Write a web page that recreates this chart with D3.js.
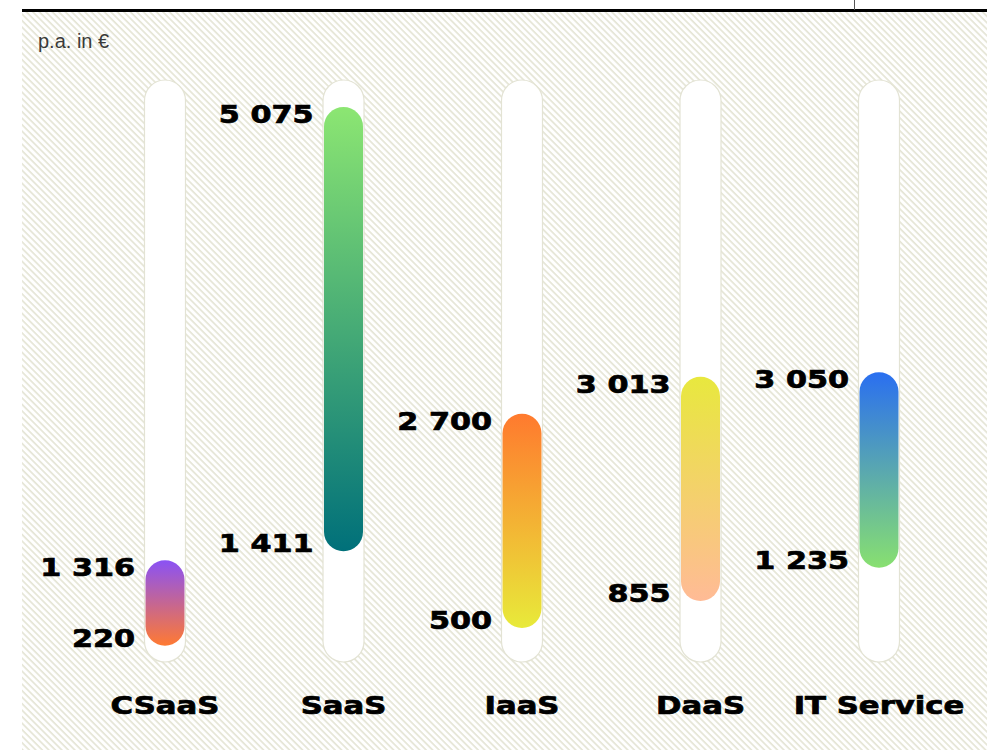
<!DOCTYPE html>
<html>
<head>
<meta charset="utf-8">
<script src="https://cdn.jsdelivr.net/npm/d3@7"></script>
<style>
	html, body { margin: 0; padding: 0; background: #fff; }
	svg { display: block; }
</style>
</head>
<body>
<div id="chart"></div>
<script>
// values (per year, EUR)
const categories = ["CSaaS", "SaaS", "IaaS", "DaaS", "IT Service"]
const lowValues = [220, 1411, 500, 855, 1235]
const highValues = [1316, 5075, 2700, 3013, 3050]
const topColors = ["#8a52f5", "#8ce672", "#ff7a2e", "#e8e83e", "#2a6ff0"]
const bottomColors = ["#ff7a32", "#00707a", "#e8ea3a", "#ffbb96", "#88e070"]
const unitLabel = "p.a. in €"

const width = 987
const height = 750

const fmt = v => d3.format(",")(v).replace(/,/g, " ")

const svg = d3.select("#chart")
	.append("svg")
	.attr("width", width)
	.attr("height", height)

const defs = svg.append("defs")

// diagonal hatch background
const hatch = defs.append("pattern")
	.attr("id", "hatch")
	.attr("patternUnits", "userSpaceOnUse")
	.attr("width", 4.6)
	.attr("height", 4.6)
	.attr("patternTransform", "rotate(-45)")
hatch.append("rect")
	.attr("width", 4.6)
	.attr("height", 4.6)
	.attr("fill", "#fff")
hatch.append("line")
	.attr("x1", 1).attr("x2", 1)
	.attr("y1", 0).attr("y2", 4.6)
	.attr("stroke", "#e2e2d1")
	.attr("stroke-width", 1.5)

categories.forEach((c, i) => {
	const g = defs.append("linearGradient")
		.attr("id", "grad" + i)
		.attr("x1", 0).attr("x2", 0)
		.attr("y1", 0).attr("y2", 1)
	g.append("stop").attr("offset", "0%").attr("stop-color", topColors[i])
	g.append("stop").attr("offset", "100%").attr("stop-color", bottomColors[i])
})

svg.append("rect")
	.attr("x", 22)
	.attr("y", 12)
	.attr("width", width - 22)
	.attr("height", height - 12)
	.attr("fill", "url(#hatch)")

// top rule
svg.append("rect")
	.attr("x", 22)
	.attr("y", 9)
	.attr("width", width - 22)
	.attr("height", 3)
	.attr("fill", "#000")
svg.append("line")
	.attr("x1", 854.5).attr("x2", 854.5)
	.attr("y1", 0).attr("y2", 10)
	.attr("stroke", "#555")
	.attr("stroke-width", 1)

svg.append("text")
	.attr("x", 38)
	.attr("y", 48)
	.text(unitLabel)
	.style("font-family", "'Liberation Sans', Arial, sans-serif")
	.style("font-size", "20px")
	.style("fill", "#3a3a3a")

const x = d3.scalePoint()
	.domain(categories)
	.range([165, 879])

const y = d3.scalePow()
	.exponent(1.3)
	.domain([0, d3.max(highValues)])
	.range([655, 107])

const trackW = 41
const barW = 39

const cols = svg.append("g")
	.selectAll("g")
	.data(categories)
	.join("g")
	.attr("transform", d => `translate(${x(d)},0)`)

// white tracks
cols.append("rect")
	.attr("x", -trackW / 2)
	.attr("y", 80)
	.attr("width", trackW)
	.attr("height", 582)
	.attr("rx", trackW / 2)
	.attr("fill", "#fff")
	.attr("stroke", "#e3e3d4")
	.attr("stroke-width", 1.2)

// range bars
cols.append("rect")
	.attr("x", -barW / 2)
	.attr("y", (d, i) => y(highValues[i]))
	.attr("width", barW)
	.attr("height", (d, i) => y(lowValues[i]) - y(highValues[i]))
	.attr("rx", barW / 2)
	.attr("fill", (d, i) => `url(#grad${i})`)

const boldStyle = sel => sel
	.style("font-family", "'DejaVu Sans', sans-serif")
	.style("font-weight", "bold")
	.style("font-size", "24px")
	.style("fill", "#000")
	.style("stroke", "#000")
	.style("stroke-width", 0.7)

cols.append("g")
	.attr("transform", (d, i) => `translate(${-30},${y(highValues[i]) + 16}) scale(1.26,1)`)
	.append("text")
	.attr("text-anchor", "end")
	.call(boldStyle)
	.text((d, i) => fmt(highValues[i]))

cols.append("g")
	.attr("transform", (d, i) => `translate(${-30},${y(lowValues[i]) + 1}) scale(1.26,1)`)
	.append("text")
	.attr("text-anchor", "end")
	.call(boldStyle)
	.text((d, i) => fmt(lowValues[i]))

// category labels
cols.append("g")
	.attr("transform", "translate(0,714) scale(1.28,1)")
	.append("text")
	.attr("text-anchor", "middle")
	.call(boldStyle)
	.text(d => d)
</script>
</body>
</html>
